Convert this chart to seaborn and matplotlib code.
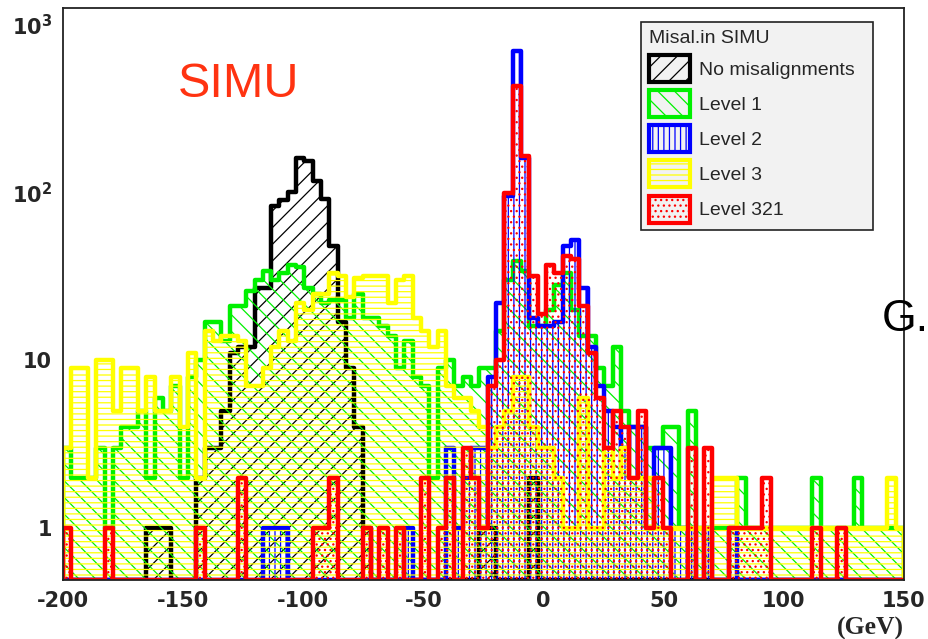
import numpy as np
import pandas as pd
import matplotlib
matplotlib.use("Agg")
import matplotlib.pyplot as plt
import seaborn as sns
from matplotlib.patches import Patch
from matplotlib.ticker import LogLocator, MultipleLocator, NullFormatter

# ---------------- data (entries per bin, 101 bins from -200 to 150 GeV) ----------------
X_MIN, X_MAX, N_BINS = -200.0, 150.0, 101

no_misalignments = [
    0, 0, 0, 0, 0, 0, 0, 0, 0, 0,
    1, 1, 1, 0, 0, 0, 2, 3, 3, 5,
    11, 12, 12, 27, 27, 83, 90, 101, 160, 155,
    117, 92, 48, 17, 9, 4, 1, 0, 0, 0,
    0, 0, 0, 0, 0, 0, 0, 0, 0, 0,
    1, 1, 0, 0, 0, 0, 2, 0, 0, 0,
    0, 0, 0, 0, 0, 0, 0, 0, 0, 0,
    0, 0, 0, 0, 0, 0, 0, 0, 0, 0,
    0, 0, 0, 0, 0, 0, 0, 0, 0, 0,
    0, 0, 0, 0, 0, 0, 0, 0, 0, 0,
    0,
]
level_1 = [
    3, 2, 2, 2, 3, 1, 3, 4, 4, 5,
    2, 6, 5, 7, 2, 8, 10, 17, 17, 13,
    21, 21, 26, 30, 34, 30, 33, 37, 36, 27,
    25, 22, 23, 23, 18, 25, 18, 18, 16, 14,
    9, 13, 8, 7, 2, 9, 10, 7, 8, 7,
    9, 9, 15, 30, 39, 34, 16, 16, 20, 28,
    33, 20, 14, 14, 9, 7, 12, 5, 4, 4,
    3, 3, 4, 4, 1, 5, 1, 1, 1, 1,
    1, 2, 1, 1, 1, 1, 1, 1, 1, 1,
    2, 1, 1, 1, 1, 2, 1, 1, 1, 1,
    1,
]
level_2 = [
    0, 0, 0, 0, 0, 0, 0, 0, 0, 0,
    0, 0, 0, 0, 0, 0, 0, 0, 0, 0,
    0, 0, 0, 0, 1, 1, 1, 0, 0, 0,
    0, 0, 0, 0, 0, 0, 0, 0, 0, 0,
    0, 1, 0, 0, 0, 0, 3, 1, 2, 3,
    3, 8, 22, 95, 700, 160, 18, 16, 16, 17,
    48, 52, 27, 12, 7, 5, 4, 3, 4, 4,
    1, 3, 3, 1, 1, 1, 0, 1, 0, 0,
    1, 0, 0, 0, 0, 0, 0, 0, 0, 0,
    0, 0, 0, 0, 0, 0, 0, 0, 0, 0,
    0,
]
level_3 = [
    3, 9, 9, 2, 10, 10, 5, 9, 9, 5,
    8, 5, 5, 8, 4, 11, 2, 15, 13, 14,
    14, 13, 7, 7, 9, 12, 15, 13, 22, 20,
    25, 25, 33, 32, 24, 31, 32, 32, 32, 22,
    30, 32, 18, 15, 12, 15, 7, 6, 6, 5,
    4, 3, 4, 5, 8, 8, 4, 3, 3, 2,
    1, 1, 6, 1, 1, 3, 2, 3, 2, 2,
    2, 1, 1, 1, 1, 1, 1, 1, 2, 2,
    2, 1, 1, 1, 1, 1, 1, 1, 1, 1,
    1, 1, 1, 1, 1, 1, 1, 1, 1, 2,
    1,
]
level_321 = [
    1, 0, 0, 0, 0, 1, 0, 0, 0, 0,
    0, 0, 0, 0, 0, 0, 1, 0, 0, 0,
    0, 2, 0, 0, 0, 0, 0, 0, 0, 0,
    1, 1, 2, 0, 0, 0, 1, 0, 1, 0,
    1, 0, 0, 2, 0, 1, 2, 0, 3, 2,
    1, 7, 10, 100, 430, 165, 32, 19, 37, 33,
    42, 40, 21, 11, 6, 3, 5, 4, 2, 5,
    1, 2, 1, 0, 0, 3, 0, 3, 0, 0,
    1, 1, 1, 1, 2, 0, 0, 0, 0, 0,
    1, 0, 0, 1, 0, 0, 0, 0, 0, 0,
    0,
]

SERIES_NAMES = ["No misalignments", "Level 1", "Level 2", "Level 3", "Level 321"]
LEGEND_TITLE = "Misal.in SIMU"
X_TICKS = [-200, -150, -100, -50, 0, 50, 100, 150]
X_TICK_LABELS = ["-200", "-150", "-100", "-50", "0", "50", "100", "150"]
Y_TICKS = [1, 10, 100, 1000]
Y_TICK_LABELS = ["1", "10", r"$\mathbf{10^{2}}$", r"$\mathbf{10^{3}}$"]
X_UNIT_LABEL = "(GeV)"
PANEL_TAG = "SIMU"
EDGE_TEXT = "G."

# ---------------- style ----------------
COLORS = ["#000000", "#00f000", "#0000ff", "#ffff00", "#ff0000"]
HATCHES = ["//", "\\\\", "|||", "---", "..."]
Y_MIN, Y_MAX = 0.49, 1263

sns.set_style("white")
plt.rcParams["font.family"] = ["DejaVu Sans"]
plt.rcParams["mathtext.fontset"] = "dejavusans"
plt.rcParams["hatch.linewidth"] = 0.9

edges = np.linspace(X_MIN, X_MAX, N_BINS + 1)
centers = 0.5 * (edges[:-1] + edges[1:])

fig = plt.figure(figsize=(9.29, 6.39), dpi=100)
ax = fig.add_axes([63 / 929, 59 / 639, 841 / 929, 572 / 639])

all_series = [no_misalignments, level_1, level_2, level_3, level_321]
for z, (name, vals, col, hat) in enumerate(zip(SERIES_NAMES, all_series, COLORS, HATCHES)):
    v = np.asarray(vals, dtype=float)
    df = pd.DataFrame({"energy": centers, "entries": np.where(v > 0, v, Y_MIN)})
    sns.histplot(data=df, x="energy", weights="entries", bins=edges.tolist(),
                 element="step", fill=True, color=col, facecolor="none", edgecolor=col,
                 hatch=hat, linewidth=3.2, ax=ax, zorder=2 + z)

ax.set_yscale("log")
ax.set_xlim(X_MIN, X_MAX)
ax.set_ylim(Y_MIN, Y_MAX)
ax.set_ylabel("")

# ticks
ax.set_xticks(X_TICKS)
ax.set_xticklabels(X_TICK_LABELS)
ax.xaxis.set_minor_locator(MultipleLocator(10))
ax.set_yticks(Y_TICKS)
ax.set_yticklabels(Y_TICK_LABELS)
ax.yaxis.set_minor_locator(LogLocator(base=10, subs=np.arange(2, 10)))
ax.yaxis.set_minor_formatter(NullFormatter())
ax.tick_params(axis="y", which="major", direction="in", length=19, width=1.3, pad=8,
               labelsize=15, right=False)
ax.tick_params(axis="y", which="minor", direction="in", length=9, width=1.2, right=False)
ax.tick_params(axis="x", which="major", direction="in", length=12, width=1.2, pad=8,
               labelsize=15, top=False)
ax.tick_params(axis="x", which="minor", direction="in", length=6, width=1.0, top=False)
for lab in ax.get_xticklabels() + ax.get_yticklabels():
    lab.set_fontweight("bold")

for s in ax.spines.values():
    s.set_visible(True)
    s.set_linewidth(1.3)
    s.set_color("#222222")
    s.set_zorder(20)

ax.set_xlabel(X_UNIT_LABEL, loc="right", fontfamily="Liberation Serif", fontweight="bold",
              fontsize=18.5, labelpad=4)

# legend (box spans the same width as the reference box)
leg_x0 = (641 - 63) / 841
leg_w = (873 - 641) / 841
leg_top = (580 - 22) / 572
leg_h = (229 - 22) / 572
handles = [Patch(facecolor="none", edgecolor=c, hatch=h, linewidth=3, label=n)
           for n, c, h in zip(SERIES_NAMES, COLORS, HATCHES)]
leg = ax.legend(handles=handles, title=LEGEND_TITLE, loc="upper left", mode="expand",
                bbox_to_anchor=(leg_x0, leg_top - leg_h, leg_w, leg_h), borderaxespad=0,
                prop={"family": "Liberation Sans", "size": 14},
                title_fontproperties={"family": "Liberation Sans", "size": 14},
                alignment="left", frameon=True, fancybox=False, framealpha=1,
                facecolor="#f2f2f2", edgecolor="#222222",
                handlelength=2.1, handleheight=1.76, handletextpad=0.5,
                labelspacing=0.42, borderpad=0.4)
leg.get_frame().set_linewidth(1.2)
leg.set_zorder(30)

ax.text((178 - 63) / 841, (580 - 97) / 572, PANEL_TAG, transform=ax.transAxes,
        ha="left", va="baseline", fontsize=35, color="#ff3311",
        fontfamily="Liberation Sans", zorder=31)
fig.text(882 / 929, 1 - 331 / 639, EDGE_TEXT, ha="left", va="baseline", fontsize=32,
         fontfamily="Liberation Sans", color="black")

fig.savefig("out.png", dpi=100, facecolor="white")
